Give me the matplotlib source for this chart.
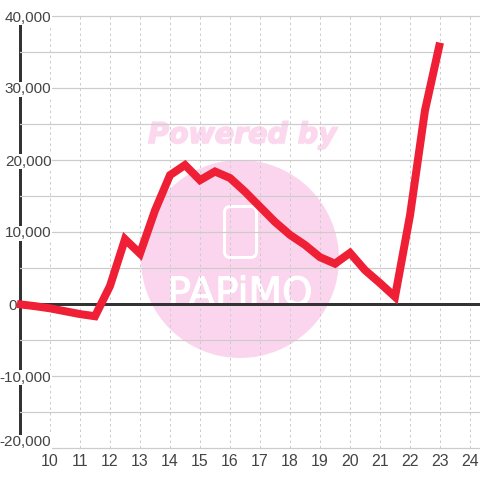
import matplotlib
matplotlib.use("Agg")
import matplotlib.pyplot as plt
import matplotlib.patheffects as pe
from matplotlib.patches import Circle, FancyBboxPatch
from matplotlib.transforms import ScaledTranslation

hours = [8.9, 9.5, 10, 10.5, 11, 11.5, 12, 12.5, 13, 13.5, 14, 14.5, 15, 15.5, 16, 16.5,
         17, 17.5, 18, 18.5, 19, 19.5, 20, 20.5, 21, 21.5, 22, 22.5, 23]
values = [0, -300, -600, -1000, -1400, -1700, 2500, 9000, 7000, 13000, 17900, 19300, 17200,
          18400, 17500, 15600, 13500, 11400, 9600, 8200, 6500, 5600, 7100, 4700, 2900, 1000,
          12300, 26900, 36300]
x_ticks = list(range(10, 25))
y_ticks = list(range(-20000, 40001, 5000))
y_labelled = [-20000, -10000, 0, 10000, 20000, 30000, 40000]

INK = "#333333"
LABEL = "#444444"
GRID = "#cccccc"
RED = "#ef1f35"
PINK = "#fbd5ed"
PINK_TEXT = "#fbd8ee"
FONT = "Liberation Sans"

fig = plt.figure(figsize=(4.8, 4.8), dpi=100, facecolor="white")
px = 72 / 100

# watermark layer, in pixel coordinates
wm = fig.add_axes([0, 0, 1, 1], zorder=0)
wm.set_xlim(0, 480)
wm.set_ylim(480, 0)
wm.axis("off")
wm.add_patch(Circle((240, 259), 99, facecolor=PINK, edgecolor="none"))
wm.add_patch(FancyBboxPatch((224.5, 206.5), 32, 51, boxstyle="round,pad=0,rounding_size=6",
                            facecolor="none", edgecolor="white", linewidth=3 * px))
wm.text(242.5, 135, "Powered by", family="DejaVu Sans", weight="bold", style="oblique",
        fontsize=20.5, color=PINK_TEXT, ha="center", va="center",
        path_effects=[pe.withStroke(linewidth=1.2, foreground=PINK_TEXT)])
wm.text(240, 305, "PAPiMO", family="DejaVu Sans", weight="normal", fontsize=28,
        color="white", ha="center", va="baseline",
        path_effects=[pe.withStroke(linewidth=0.8, foreground="white")])

ax = fig.add_axes([20 / 480, 32 / 480, 460 / 480, 432 / 480], zorder=1)
ax.patch.set_visible(False)
ax.set_xlim(9, 9 + 460 / 30)
ax.set_ylim(-20000, 40000)
for side in ("top", "right", "bottom"):
    ax.spines[side].set_visible(False)
ax.spines["left"].set_color(INK)
ax.spines["left"].set_linewidth(3 * px)
ax.spines["left"].set_zorder(1)
ax.set_axisbelow(False)

ax.set_xticks(x_ticks)
ax.set_yticks(y_ticks)
ax.set_yticklabels([f"{v:,}" if v in y_labelled else "" for v in y_ticks])
ax.grid(axis="y", color=GRID, linewidth=1.2 * px, linestyle="-", clip_on=False)
ax.grid(axis="x", color=GRID, linewidth=1 * px, linestyle=(0, (2.5, 3)), clip_on=False)
ax.tick_params(axis="y", length=0, labelsize=11, labelcolor=LABEL)
ax.tick_params(axis="x", length=0, labelsize=11.4, labelcolor=LABEL, pad=4)
ax.tick_params(axis="y", pad=-31.5 * px)
for lab in ax.get_xticklabels() + ax.get_yticklabels():
    lab.set_family(FONT)

for tick, v in zip(ax.yaxis.get_major_ticks(), y_ticks):
    lab = tick.label1
    if v in y_labelled:
        lab.set_bbox(dict(facecolor="white", edgecolor="none", pad=0.2))
    if v == -20000:
        lab.set_transform(lab.get_transform() + ScaledTranslation(0, 7 / 100, fig.dpi_scale_trans))
    if v == 0:
        lab.set_transform(lab.get_transform() + ScaledTranslation(-35 / 100, 0, fig.dpi_scale_trans))

ax.hlines(0, 9.6, ax.get_xlim()[1], color=INK, linewidth=3 * px, zorder=2.6)
ax.plot(hours, values, color=RED, linewidth=8 * px, solid_capstyle="butt",
        solid_joinstyle="miter", clip_on=False, zorder=3)

fig.savefig("out.png", dpi=100, facecolor="white")
